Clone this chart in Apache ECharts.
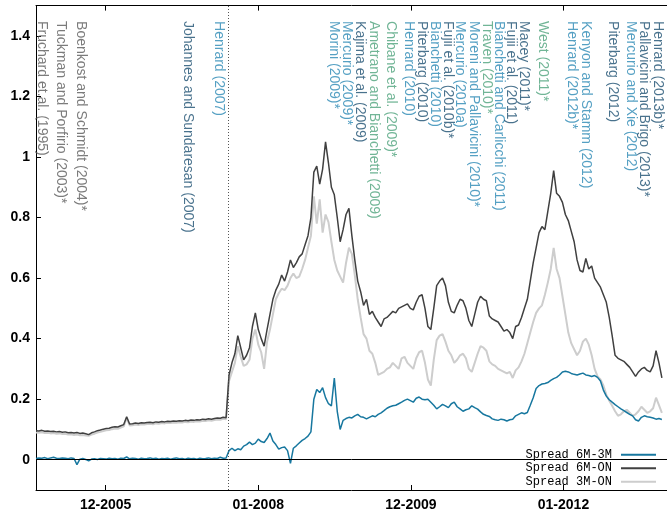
<!DOCTYPE html>
<html>
<head>
<meta charset="utf-8">
<script src="https://cdn.jsdelivr.net/npm/echarts@6/dist/echarts.min.js"></script>
<style>
  html, body { margin: 0; padding: 0; background: #ffffff; }
  #chart { width: 667px; height: 512px; }
</style>
</head>
<body>
<div id="chart"></div>
<script>
// Observation grid: one reading every 14 days from 1 Feb 2005
const startDate = '2005-02-01';
const stepDays = 14;

// Basis spreads (percentage points)
const spread6M3M = [
  0.004, 0.006, 0.005, 0.007, 0.003, 0.006, 0.008, 0.005, 0.004, 0.006,
  0.005, 0.003, 0.006, 0.004, -0.016, 0.002, 0.004, 0.001, -0.004, 0.002,
  0.003, 0.001, 0.004, 0.003, 0.002, 0.005, 0.003, 0.004, 0.002, 0.005,
  0.004, 0.009, 0.003, 0.005, 0.004, 0.002, 0.005, 0.003, 0.004, 0.006,
  0.003, 0.005, 0.002, 0.004, 0.003, 0.005, 0.002, 0.004, 0.006, 0.003,
  0.004, 0.002, 0.005, 0.003, 0.004, 0.002, 0.005, 0.003, 0.004, 0.006,
  0.003, 0.005, 0.004, 0.008, 0.005, 0.006, 0.030, 0.038, 0.030, 0.036,
  0.033, 0.045, 0.050, 0.058, 0.050, 0.055, 0.068, 0.060, 0.057, 0.070,
  0.088, 0.062, 0.050, 0.035, 0.040, 0.042, 0.030, -0.012, 0.038, 0.046,
  0.055, 0.064, 0.070, 0.078, 0.092, 0.200, 0.232, 0.222, 0.238, 0.205,
  0.185, 0.178, 0.270, 0.160, 0.100, 0.130, 0.136, 0.140, 0.138, 0.145,
  0.150, 0.142, 0.140, 0.135, 0.140, 0.145, 0.142, 0.150, 0.155, 0.162,
  0.170, 0.175, 0.178, 0.180, 0.185, 0.190, 0.196, 0.200, 0.195, 0.190,
  0.203, 0.207, 0.200, 0.198, 0.200, 0.190, 0.180, 0.168, 0.175, 0.183,
  0.178, 0.172, 0.185, 0.190, 0.175, 0.168, 0.160, 0.165, 0.168, 0.178,
  0.172, 0.167, 0.158, 0.150, 0.146, 0.143, 0.135, 0.132, 0.130, 0.134,
  0.132, 0.128, 0.132, 0.134, 0.145, 0.150, 0.155, 0.152, 0.156, 0.180,
  0.205, 0.235, 0.245, 0.250, 0.252, 0.255, 0.262, 0.268, 0.272, 0.280,
  0.290, 0.292, 0.290, 0.285, 0.282, 0.280, 0.283, 0.286, 0.280, 0.278,
  0.275, 0.278, 0.272, 0.260, 0.230, 0.210, 0.198, 0.190, 0.182, 0.175,
  0.168, 0.162, 0.156, 0.150, 0.145, 0.132, 0.128, 0.140, 0.145, 0.142,
  0.140, 0.138, 0.134, 0.136, 0.133
];
const spread6MON = [
  0.096, 0.095, 0.097, 0.094, 0.095, 0.093, 0.094, 0.092, 0.093, 0.091,
  0.092, 0.089, 0.090, 0.088, 0.090, 0.087, 0.088, 0.086, 0.083, 0.089,
  0.092, 0.096, 0.098, 0.101, 0.103, 0.104, 0.107, 0.109, 0.108, 0.112,
  0.116, 0.142, 0.118, 0.119, 0.121, 0.120, 0.122, 0.121, 0.123, 0.124,
  0.122, 0.125, 0.124, 0.126, 0.125, 0.127, 0.126, 0.128, 0.127, 0.129,
  0.128, 0.130, 0.129, 0.131, 0.130, 0.132, 0.131, 0.134, 0.133, 0.135,
  0.134, 0.136, 0.138, 0.137, 0.140, 0.139, 0.280, 0.320, 0.350, 0.410,
  0.370, 0.330, 0.345, 0.370, 0.440, 0.485, 0.430, 0.400, 0.375, 0.430,
  0.480, 0.530, 0.560, 0.580, 0.610, 0.590, 0.620, 0.660, 0.635, 0.650,
  0.670, 0.680, 0.710, 0.740, 0.800, 0.950, 0.970, 0.910, 0.960, 1.050,
  0.980, 0.900, 0.875, 0.800, 0.720, 0.760, 0.810, 0.830, 0.740, 0.660,
  0.590, 0.555, 0.510, 0.530, 0.480, 0.490, 0.470, 0.455, 0.440, 0.465,
  0.470, 0.480, 0.490, 0.485, 0.500, 0.505, 0.510, 0.515, 0.500, 0.495,
  0.520, 0.540, 0.545, 0.500, 0.440, 0.430, 0.500, 0.575, 0.590, 0.600,
  0.575, 0.520, 0.490, 0.485, 0.510, 0.530, 0.525, 0.500, 0.460, 0.440,
  0.480, 0.520, 0.540, 0.530, 0.525, 0.475, 0.465, 0.460, 0.455, 0.440,
  0.425, 0.430, 0.420, 0.400, 0.440, 0.445, 0.470, 0.500, 0.530, 0.590,
  0.650, 0.700, 0.750, 0.770, 0.760, 0.820, 0.880, 0.955, 0.880, 0.870,
  0.850, 0.810, 0.790, 0.755, 0.720, 0.660, 0.625, 0.620, 0.665, 0.630,
  0.640, 0.600, 0.585, 0.570, 0.545, 0.520, 0.470, 0.410, 0.345, 0.335,
  0.330, 0.325, 0.315, 0.305, 0.290, 0.275, 0.290, 0.300, 0.305, 0.295,
  0.290, 0.310, 0.360, 0.320, 0.270
];
const spread3MON = [
  0.090, 0.089, 0.091, 0.088, 0.089, 0.087, 0.088, 0.086, 0.087, 0.085,
  0.086, 0.083, 0.084, 0.082, 0.083, 0.081, 0.082, 0.080, 0.079, 0.083,
  0.086, 0.090, 0.092, 0.095, 0.097, 0.098, 0.101, 0.103, 0.102, 0.106,
  0.110, 0.138, 0.113, 0.114, 0.116, 0.115, 0.117, 0.116, 0.118, 0.119,
  0.117, 0.120, 0.119, 0.121, 0.120, 0.122, 0.121, 0.123, 0.122, 0.124,
  0.123, 0.125, 0.124, 0.126, 0.125, 0.127, 0.126, 0.129, 0.128, 0.130,
  0.129, 0.131, 0.133, 0.132, 0.135, 0.134, 0.260, 0.290, 0.320, 0.375,
  0.340, 0.310, 0.315, 0.330, 0.400, 0.430, 0.380, 0.355, 0.300, 0.390,
  0.430, 0.480, 0.530, 0.550, 0.565, 0.560, 0.575, 0.600, 0.615, 0.600,
  0.605, 0.630, 0.660, 0.700, 0.740, 0.870, 0.780, 0.860, 0.750, 0.810,
  0.785, 0.720, 0.660, 0.625, 0.605, 0.585, 0.650, 0.700, 0.680, 0.610,
  0.530, 0.470, 0.415, 0.400, 0.360, 0.350, 0.320, 0.280, 0.285, 0.290,
  0.300, 0.305, 0.320, 0.310, 0.300, 0.335, 0.340, 0.320, 0.310, 0.300,
  0.335, 0.355, 0.360, 0.320, 0.265, 0.245, 0.330, 0.395, 0.410, 0.415,
  0.390, 0.360, 0.345, 0.320, 0.330, 0.345, 0.350, 0.335, 0.300, 0.290,
  0.320, 0.350, 0.375, 0.370, 0.360, 0.325, 0.315, 0.310, 0.300, 0.295,
  0.290, 0.285, 0.290, 0.270, 0.295, 0.305, 0.325, 0.350, 0.385, 0.420,
  0.455, 0.485, 0.500, 0.510, 0.545, 0.585, 0.630, 0.700, 0.630, 0.600,
  0.540, 0.480, 0.420, 0.385, 0.365, 0.345, 0.360, 0.390, 0.400, 0.380,
  0.345, 0.300, 0.275, 0.265, 0.245, 0.215, 0.195, 0.178, 0.160, 0.145,
  0.150, 0.160, 0.165, 0.155, 0.145, 0.150, 0.160, 0.175, 0.165, 0.155,
  0.160, 0.170, 0.205, 0.180, 0.155
];

const seriesNames = ['Spread 6M-3M', 'Spread 6M-ON', 'Spread 3M-ON'];

// Axis ticks
const xTickDates = ['2005-12-31T12:00', '2008-01-01T00:00', '2009-12-31T12:00', '2012-01-01T00:00'];
const xTickLabels = ['12-2005', '01-2008', '12-2009', '01-2012'];
const yTickValues = [0, 0.2, 0.4, 0.6, 0.8, 1, 1.2, 1.4];
const yTickLabels = ['0', '0.2', '0.4', '0.6', '0.8', '1', '1.2', '1.4'];
const xRange = ['2005-02-01T00:00', '2013-05-10T12:00'];
const yRange = [-0.1, 1.5];

// Start of the credit crunch
const crisisDate = '2007-08-09T00:00';

// Literature timeline
const paperNames = [
  'Fruchard et.al. (1995)', 'Tuckman and Porfirio (2003)*', 'Boenkost and Schmidt (2004)*',
  'Johannes and Sundaresan (2007)', 'Henrard (2007)',
  'Morini (2009)*', 'Mercurio (2009)*', 'Kajima et al. (2009)', 'Ametrano and Bianchetti (2009)',
  'Chibane et al. (2009)*', 'Henrard (2010)', 'Piterbarg (2010)', 'Bianchetti (2010)',
  'Fujii et al. (2010b)*', 'Mercurio (2010a)', 'Moreni and Pallavicini (2010)*', 'Traven (2010)*',
  'Bianchetti and Carlicchi (2011)', 'Fujii et al. (2011)', 'Macey (2011)*', 'West (2011)*',
  'Henrard (2012b)*', 'Kenyon and Stamm (2012)', 'Piterbarg (2012)', 'Mercurio and Xie (2012)',
  'Pallavicini and Brigo (2013)*', 'Henrard (2013b)*'
];
const paperDates = [
  '2005-03-01', '2005-05-31', '2005-09-03',
  '2007-01-30', '2007-06-27',
  '2008-12-26', '2009-02-26', '2009-04-29', '2009-07-05',
  '2009-09-28', '2009-12-23', '2010-02-23', '2010-04-26',
  '2010-06-27', '2010-08-23', '2010-10-29', '2010-12-30',
  '2011-02-25', '2011-04-23', '2011-06-24', '2011-09-22',
  '2012-02-08', '2012-04-19', '2012-08-26', '2012-11-19',
  '2013-01-20', '2013-03-28'
];
const paperGroups = [
  'pre', 'pre', 'pre',
  'dark', 'light',
  'light', 'light', 'dark', 'green',
  'green', 'light', 'dark', 'light',
  'dark', 'light', 'light', 'green',
  'light', 'dark', 'dark', 'green',
  'light', 'light', 'dark', 'light',
  'dark', 'dark'
];
const paperLabelLevel = 1.449;

const groupColors = { pre: '#5a5a5a', dark: '#1c4f70', light: '#2a88b4', green: '#4da37c' };
const lineColors = ['#17779f', '#404040', '#cdcdcd'];

const DAY = 86400000;
const utc = s => Date.parse(s + (s.length === 10 ? 'T00:00:00Z' : ':00Z'));
const t0 = utc(startDate);
const toPairs = arr => arr.map((v, i) => [t0 + i * stepDays * DAY, v]);

const xTickTimes = xTickDates.map(utc);
const labelForTime = v => {
  let best = 0;
  xTickTimes.forEach((t, i) => { if (Math.abs(t - v) < Math.abs(xTickTimes[best] - v)) best = i; });
  return xTickLabels[best];
};

const axisFont = { fontFamily: 'Liberation Sans', fontWeight: 'bold', fontSize: 14, color: '#000' };

const chart = echarts.init(document.getElementById('chart'), null, { renderer: 'canvas' });
chart.setOption({
  animation: false,
  backgroundColor: '#ffffff',
  grid: { left: 36, right: -3, top: 5.6, bottom: 21, containLabel: false },
  xAxis: [
    {
      type: 'value', position: 'bottom', scale: true,
      min: utc(xRange[0]), max: utc(xRange[1]),
      axisLine: { show: true, onZero: false, lineStyle: { color: '#000', width: 1 } },
      axisTick: { show: true, inside: true, length: 5, customValues: xTickTimes, lineStyle: { color: '#000' } },
      axisLabel: { show: true, customValues: xTickTimes, formatter: v => labelForTime(v), margin: 8, ...axisFont },
      splitLine: { show: false }
    },
    {
      type: 'value', position: 'top', scale: true,
      min: utc(xRange[0]), max: utc(xRange[1]),
      axisLine: { show: true, onZero: false, lineStyle: { color: '#000', width: 1 } },
      axisTick: { show: true, inside: true, length: 5, customValues: xTickTimes, lineStyle: { color: '#000' } },
      axisLabel: { show: false },
      splitLine: { show: false }
    }
  ],
  yAxis: {
    type: 'value', min: yRange[0], max: yRange[1],
    axisLine: { show: true, onZero: false, lineStyle: { color: '#000', width: 1 } },
    axisTick: { show: true, inside: true, length: 5, customValues: yTickValues, lineStyle: { color: '#000' } },
    axisLabel: {
      show: true, customValues: yTickValues, margin: 6,
      formatter: v => { const k = yTickValues.findIndex(y => Math.abs(y - v) < 1e-9); return k < 0 ? '' : yTickLabels[k]; },
      ...axisFont
    },
    splitLine: { show: false }
  },
  legend: {
    data: seriesNames.map((n, i) => ({ name: n, itemStyle: { color: lineColors[i] } })),
    orient: 'vertical', right: 6, top: 443, align: 'right',
    icon: 'rect', itemWidth: 35, itemHeight: 2, itemGap: 0,
    textStyle: { fontFamily: 'Liberation Mono', fontSize: 12, lineHeight: 13.5, color: '#000', padding: [0, 4, 0, 0] },
    selectedMode: false
  },
  series: [
    {
      name: seriesNames[2], type: 'line', data: toPairs(spread3MON), z: 2,
      symbol: 'none', lineStyle: { color: lineColors[2], width: 2 }, itemStyle: { color: lineColors[2] },
      markLine: {
        silent: true, symbol: 'none', label: { show: false },
        data: [
          { yAxis: 0, lineStyle: { color: '#000', width: 1, type: 'solid' } },
          { xAxis: utc(crisisDate), lineStyle: { color: '#555', width: 1, type: [1, 2] } }
        ]
      }
    },
    {
      name: seriesNames[1], type: 'line', data: toPairs(spread6MON), z: 3,
      symbol: 'none', lineStyle: { color: lineColors[1], width: 1.5 }, itemStyle: { color: lineColors[1] }
    },
    {
      name: seriesNames[0], type: 'line', data: toPairs(spread6M3M), z: 4,
      symbol: 'none', lineStyle: { color: lineColors[0], width: 1.5 }, itemStyle: { color: lineColors[0] }
    },
    {
      name: 'papers', type: 'scatter', z: 5, silent: true,
      symbolSize: 1, itemStyle: { color: 'rgba(0,0,0,0)' },
      label: {
        show: true, position: 'inside', rotate: -90, align: 'left', verticalAlign: 'middle',
        fontFamily: 'Liberation Sans', fontSize: 14,
        formatter: p => p.name
      },
      data: paperNames.map((n, i) => ({
        name: n,
        value: [utc(paperDates[i]), paperLabelLevel],
        label: { color: groupColors[paperGroups[i]] }
      }))
    }
  ]
});
</script>
</body>
</html>
